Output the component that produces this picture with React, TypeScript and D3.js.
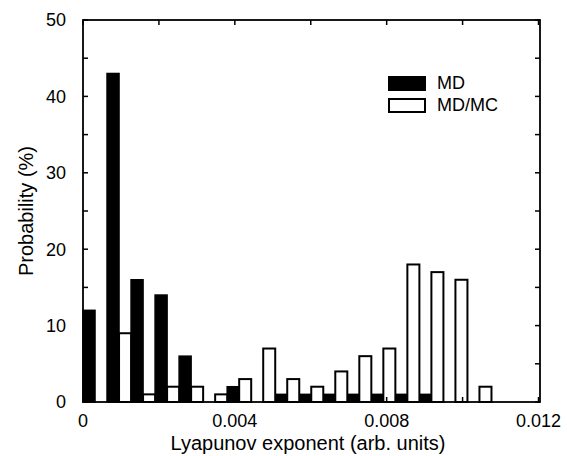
import React, { useEffect, useRef } from "react";
import * as d3 from "d3";

// histogram bins (left edge of each bin, arb. units)
const binWidth = 0.000633;
const binStarts = d3.range(18).map((i) => i * binWidth);
// probability (%) per bin
const mdValues = [12, 43, 16, 14, 6, 0, 2, 0, 1, 1, 1, 1, 1, 1, 1, 0, 0, 0];
const mdmcValues = [0, 9, 1, 2, 2, 1, 3, 7, 3, 2, 4, 6, 7, 18, 17, 16, 2, 0];

const xTicks = [0, 0.004, 0.008, 0.012];
const xMinorTicks = [0, 0.002, 0.004, 0.006, 0.008, 0.01, 0.012];
const yTicks = [0, 10, 20, 30, 40, 50];
const yMinorTicks = d3.range(0, 51, 5);

const legendItems = [
  { label: "MD", fill: "#000" },
  { label: "MD/MC", fill: "#fff" },
];

const W = 567;
const H = 456;
const FONT = "'Liberation Sans', Arial, Helvetica, sans-serif";

const App = () => {
  const svgRef = useRef<SVGSVGElement | null>(null);

  useEffect(() => {
    if (!svgRef.current) return;
    const svg = d3.select(svgRef.current);
    svg.selectAll("*").remove();

    const left = 83;
    const right = 540;
    const top = 20;
    const bottom = 402;

    const x = d3.scaleLinear().domain([0, 0.012]).range([left, right - 1.5]);
    const y = d3.scaleLinear().domain([0, 50]).range([bottom, top]);

    const bw = x(binWidth) - x(0);
    const half = bw / 2;

    const g = svg.append("g");

    // MD bars (black)
    g.selectAll("rect.md")
      .data(binStarts.map((s, i) => ({ s, v: mdValues[i] })))
      .enter()
      .filter((d) => d.v > 0)
      .append("rect")
      .attr("class", "md")
      .attr("x", (d) => x(d.s))
      .attr("y", (d) => y(d.v))
      .attr("width", half)
      .attr("height", (d) => y(0) - y(d.v))
      .attr("fill", "#000")
      .attr("stroke", "#000")
      .attr("stroke-width", 1.5);

    // MD/MC bars (open)
    g.selectAll("rect.mc")
      .data(binStarts.map((s, i) => ({ s, v: mdmcValues[i] })))
      .enter()
      .filter((d) => d.v > 0)
      .append("rect")
      .attr("class", "mc")
      .attr("x", (d) => x(d.s) + half)
      .attr("y", (d) => y(d.v))
      .attr("width", half)
      .attr("height", (d) => y(0) - y(d.v))
      .attr("fill", "#fff")
      .attr("stroke", "#000")
      .attr("stroke-width", 2);

    // frame
    svg
      .append("rect")
      .attr("x", left)
      .attr("y", top)
      .attr("width", right - left)
      .attr("height", bottom - top)
      .attr("fill", "none")
      .attr("stroke", "#000")
      .attr("stroke-width", 1.8);

    // inward ticks
    const tickLen = 5;
    xMinorTicks.forEach((t) => {
      svg.append("line")
        .attr("x1", x(t)).attr("x2", x(t))
        .attr("y1", top).attr("y2", top + tickLen)
        .attr("stroke", "#000").attr("stroke-width", 1.5);
      svg.append("line")
        .attr("x1", x(t)).attr("x2", x(t))
        .attr("y1", bottom).attr("y2", bottom - tickLen)
        .attr("stroke", "#000").attr("stroke-width", 1.5);
    });
    yMinorTicks.forEach((t) => {
      svg.append("line")
        .attr("x1", left).attr("x2", left + tickLen)
        .attr("y1", y(t)).attr("y2", y(t))
        .attr("stroke", "#000").attr("stroke-width", 1.5);
      svg.append("line")
        .attr("x1", right).attr("x2", right - tickLen)
        .attr("y1", y(t)).attr("y2", y(t))
        .attr("stroke", "#000").attr("stroke-width", 1.5);
    });

    // tick labels
    svg.selectAll("text.xt")
      .data(xTicks)
      .enter()
      .append("text")
      .attr("class", "xt")
      .attr("x", (d) => x(d))
      .attr("y", 427)
      .attr("text-anchor", "middle")
      .attr("font-family", FONT)
      .attr("font-size", 18)
      .text((d) => (d === 0 ? "0" : d3.format(".3f")(d)));

    svg.selectAll("text.yt")
      .data(yTicks)
      .enter()
      .append("text")
      .attr("class", "yt")
      .attr("x", 66)
      .attr("y", (d) => y(d))
      .attr("dy", "0.35em")
      .attr("text-anchor", "end")
      .attr("font-family", FONT)
      .attr("font-size", 18)
      .text((d) => d);

    // axis titles
    svg.append("text")
      .attr("x", 308)
      .attr("y", 450)
      .attr("text-anchor", "middle")
      .attr("font-family", FONT)
      .attr("font-size", 20)
      .text("Lyapunov exponent (arb. units)");

    svg.append("text")
      .attr("transform", `translate(33, ${(top + bottom) / 2}) rotate(-90)`)
      .attr("text-anchor", "middle")
      .attr("font-family", FONT)
      .attr("font-size", 20)
      .text("Probability (%)");

    // legend
    const lg = svg.append("g").attr("transform", "translate(389, 77)");
    legendItems.forEach((item, i) => {
      lg.append("rect")
        .attr("x", 0)
        .attr("y", i * 22)
        .attr("width", 36)
        .attr("height", 13)
        .attr("fill", item.fill)
        .attr("stroke", "#000")
        .attr("stroke-width", 2);
      lg.append("text")
        .attr("x", 48)
        .attr("y", i * 22 + 12)
        .attr("font-family", FONT)
        .attr("font-size", 18)
        .text(item.label);
    });
  }, []);

  return (
    <svg
      ref={svgRef}
      width={W}
      height={H}
      style={{ position: "absolute", left: 0, top: 0, background: "#fff" }}
    />
  );
};

export default App;
